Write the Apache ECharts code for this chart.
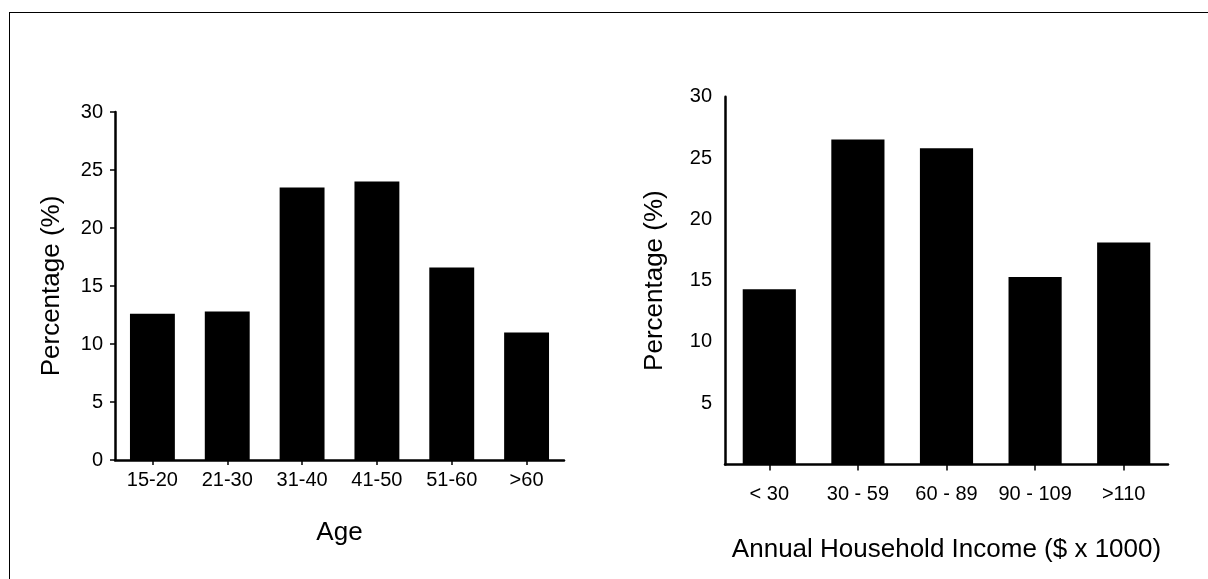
<!DOCTYPE html>
<html>
<head>
<meta charset="utf-8">
<script src="https://cdn.jsdelivr.net/npm/echarts@6/dist/echarts.min.js"></script>
<style>
html,body{margin:0;padding:0;background:#fff;}
#frame{position:absolute;left:9px;top:12px;width:1300px;height:700px;border-top:1px solid #000;border-left:1px solid #000;}
#chart{position:absolute;left:0;top:0;width:1208px;height:579px;}
</style>
</head>
<body>
<div id="frame"></div>
<div id="chart"></div>
<script>
const ageCategories = ['15-20', '21-30', '31-40', '41-50', '51-60', '>60'];
const ageValues = [12.6, 12.8, 23.5, 24.0, 16.6, 11.0];
const incomeCategories = ['< 30', '30 - 59', '60 - 89', '90 - 109', '>110'];
const incomeValues = [14.3, 26.5, 25.8, 15.3, 18.1];
const yTitle = 'Percentage (%)';
const ageTitle = 'Age';
const incomeTitle = 'Annual Household Income ($ x 1000)';

const FONT = '"Liberation Sans", Arial, sans-serif';
const chart = echarts.init(document.getElementById('chart'), null, {renderer: 'canvas'});
const axisLine = {show: true, lineStyle: {color: '#000', width: 2.5}};
const labelStyle = {color: '#000', fontFamily: FONT, fontSize: 20};
const nameStyle = {color: '#000', fontFamily: FONT, fontSize: 26};

chart.setOption({
  animation: false,
  backgroundColor: 'transparent',
  grid: [
    {left: 115, top: 112, width: 449, height: 348, containLabel: false},
    {left: 725, top: 96.7, width: 443, height: 367.8, containLabel: false}
  ],
  xAxis: [
    {
      type: 'category', gridIndex: 0, data: ageCategories,
      axisLine: axisLine,
      axisTick: {show: true, alignWithLabel: true, length: 5, lineStyle: {color: '#000', width: 1.5}},
      axisLabel: Object.assign({margin: 10, interval: 0}, labelStyle),
      name: ageTitle, nameLocation: 'middle', nameGap: 60, nameTextStyle: nameStyle
    },
    {
      type: 'category', gridIndex: 1, data: incomeCategories,
      axisLine: axisLine,
      axisTick: {show: true, alignWithLabel: true, length: 6, lineStyle: {color: '#000', width: 1.5}},
      axisLabel: Object.assign({margin: 20, interval: 0}, labelStyle),
      name: incomeTitle, nameLocation: 'middle', nameGap: 72, nameTextStyle: nameStyle
    }
  ],
  yAxis: [
    {
      type: 'value', gridIndex: 0, min: 0, max: 30, interval: 5,
      axisLine: axisLine,
      axisTick: {show: true, length: 5, lineStyle: {color: '#000', width: 1.5}},
      splitLine: {show: false},
      axisLabel: Object.assign({margin: 12}, labelStyle),
      name: yTitle, nameLocation: 'middle', nameGap: 50, nameRotate: 90, nameTextStyle: nameStyle
    },
    {
      type: 'value', gridIndex: 1, min: 0, max: 30, interval: 5,
      axisLine: axisLine,
      axisTick: {show: false},
      splitLine: {show: false},
      axisLabel: Object.assign({margin: 13, showMinLabel: false,
        formatter: v => (v === 0 ? '' : String(v))}, labelStyle),
      name: yTitle, nameLocation: 'middle', nameGap: 57, nameRotate: 90, nameTextStyle: nameStyle
    }
  ],
  series: [
    {type: 'bar', xAxisIndex: 0, yAxisIndex: 0, data: ageValues, barCategoryGap: '40%',
     itemStyle: {color: '#000'}},
    {type: 'bar', xAxisIndex: 1, yAxisIndex: 1, data: incomeValues, barCategoryGap: '40%',
     itemStyle: {color: '#000'}}
  ]
});
</script>
</body>
</html>
